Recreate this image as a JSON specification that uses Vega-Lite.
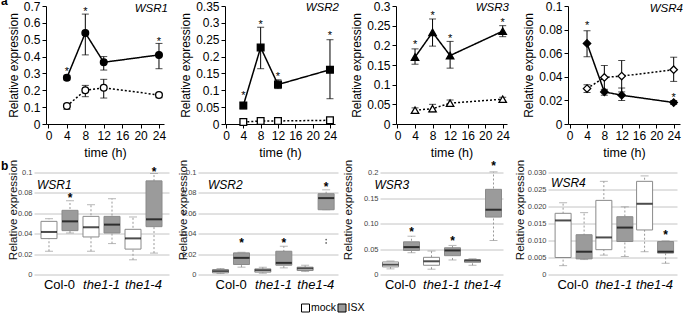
{
"$schema":"https://vega.github.io/schema/vega-lite/v6.json",
"padding":{"left":0,"top":-5,"right":0,"bottom":0},
"config":{"font":"Liberation Sans","view":{"stroke":null},"text":{"font":"Liberation Sans"},
"axis":{"labelOverlap":false,"labelFlush":false,"titleFontWeight":"normal","labelFont":"Liberation Sans","titleFont":"Liberation Sans"}},
"datasets":{
"top":[
{"gene":"WSR1","time":4,"treat":"ISX","mean":0.275,"lo":0.261,"hi":0.289,"sig":0.328},
{"gene":"WSR1","time":8,"treat":"ISX","mean":0.54,"lo":0.41,"hi":0.652,"sig":0.684},
{"gene":"WSR1","time":12,"treat":"ISX","mean":0.366,"lo":0.32,"hi":0.40,"sig":null},
{"gene":"WSR1","time":24,"treat":"ISX","mean":0.41,"lo":0.328,"hi":0.478,"sig":0.506},
{"gene":"WSR1","time":4,"treat":"mock","mean":0.107,"lo":0.087,"hi":0.119,"sig":null},
{"gene":"WSR1","time":8,"treat":"mock","mean":0.2,"lo":0.162,"hi":0.229,"sig":null},
{"gene":"WSR1","time":12,"treat":"mock","mean":0.215,"lo":0.154,"hi":0.265,"sig":null},
{"gene":"WSR1","time":24,"treat":"mock","mean":0.172,"lo":0.156,"hi":0.182,"sig":null},
{"gene":"WSR2","time":4,"treat":"ISX","mean":0.055,"lo":0.045,"hi":0.063,"sig":0.092},
{"gene":"WSR2","time":8,"treat":"ISX","mean":0.227,"lo":0.164,"hi":0.287,"sig":0.302},
{"gene":"WSR2","time":12,"treat":"ISX","mean":0.117,"lo":0.105,"hi":0.131,"sig":0.149},
{"gene":"WSR2","time":24,"treat":"ISX","mean":0.161,"lo":0.075,"hi":0.25,"sig":0.27},
{"gene":"WSR2","time":4,"treat":"mock","mean":0.006,"lo":0.004,"hi":0.008,"sig":null},
{"gene":"WSR2","time":8,"treat":"mock","mean":0.009,"lo":0.007,"hi":0.011,"sig":null},
{"gene":"WSR2","time":12,"treat":"mock","mean":0.009,"lo":0.007,"hi":0.011,"sig":null},
{"gene":"WSR2","time":24,"treat":"mock","mean":0.011,"lo":0.009,"hi":0.013,"sig":null},
{"gene":"WSR3","time":4,"treat":"ISX","mean":0.17,"lo":0.152,"hi":0.191,"sig":0.208},
{"gene":"WSR3","time":8,"treat":"ISX","mean":0.233,"lo":0.198,"hi":0.267,"sig":0.282},
{"gene":"WSR3","time":12,"treat":"ISX","mean":0.174,"lo":0.142,"hi":0.21,"sig":0.223},
{"gene":"WSR3","time":24,"treat":"ISX","mean":0.236,"lo":0.222,"hi":0.25,"sig":0.265},
{"gene":"WSR3","time":4,"treat":"mock","mean":0.035,"lo":0.029,"hi":0.041,"sig":null},
{"gene":"WSR3","time":8,"treat":"mock","mean":0.039,"lo":0.031,"hi":0.05,"sig":null},
{"gene":"WSR3","time":12,"treat":"mock","mean":0.053,"lo":0.046,"hi":0.061,"sig":null},
{"gene":"WSR3","time":24,"treat":"mock","mean":0.063,"lo":0.058,"hi":0.068,"sig":null},
{"gene":"WSR4","time":4,"treat":"ISX","mean":0.0683,"lo":0.057,"hi":0.079,"sig":0.0854},
{"gene":"WSR4","time":8,"treat":"ISX","mean":0.0272,"lo":0.0244,"hi":0.0294,"sig":null},
{"gene":"WSR4","time":12,"treat":"ISX","mean":0.0244,"lo":0.0199,"hi":0.0305,"sig":null},
{"gene":"WSR4","time":24,"treat":"ISX","mean":0.0182,"lo":0.0165,"hi":0.0199,"sig":0.0244},
{"gene":"WSR4","time":4,"treat":"mock","mean":0.03,"lo":0.0266,"hi":0.0333,"sig":null},
{"gene":"WSR4","time":8,"treat":"mock","mean":0.0395,"lo":0.0286,"hi":0.0496,"sig":null},
{"gene":"WSR4","time":12,"treat":"mock","mean":0.0406,"lo":0.0272,"hi":0.0538,"sig":null},
{"gene":"WSR4","time":24,"treat":"mock","mean":0.046,"lo":0.0361,"hi":0.0566,"sig":null}
],
"box":[
{"gene":"WSR1","geno":"Col-0","treat":"mock","wlo":0.0228,"q1":0.0352,"med":0.0417,"q3":0.0521,"whi":0.0547,"sig":null,"o1":null,"o2":null},
{"gene":"WSR1","geno":"Col-0","treat":"ISX","wlo":0.0407,"q1":0.043,"med":0.0521,"q3":0.0629,"whi":0.0723,"sig":0.078,"o1":null,"o2":null},
{"gene":"WSR1","geno":"the1-1","treat":"mock","wlo":0.0228,"q1":0.0368,"med":0.0463,"q3":0.057,"whi":0.0684,"sig":null,"o1":null,"o2":null},
{"gene":"WSR1","geno":"the1-1","treat":"ISX","wlo":0.0303,"q1":0.0407,"med":0.0489,"q3":0.057,"whi":0.0743,"sig":null,"o1":null,"o2":null},
{"gene":"WSR1","geno":"the1-4","treat":"mock","wlo":0.0144,"q1":0.0249,"med":0.0354,"q3":0.0443,"whi":0.0564,"sig":null,"o1":null,"o2":null},
{"gene":"WSR1","geno":"the1-4","treat":"ISX","wlo":0.021,"q1":0.0469,"med":0.0541,"q3":0.0918,"whi":0.099,"sig":0.1036,"o1":null,"o2":null},
{"gene":"WSR2","geno":"Col-0","treat":"mock","wlo":0.001,"q1":0.0016,"med":0.0033,"q3":0.0049,"whi":0.0059,"sig":null,"o1":null,"o2":null},
{"gene":"WSR2","geno":"Col-0","treat":"ISX","wlo":0.0072,"q1":0.0098,"med":0.0163,"q3":0.0212,"whi":0.0218,"sig":0.0335,"o1":null,"o2":null},
{"gene":"WSR2","geno":"the1-1","treat":"mock","wlo":0.0013,"q1":0.0023,"med":0.0042,"q3":0.0055,"whi":0.0072,"sig":null,"o1":null,"o2":null},
{"gene":"WSR2","geno":"the1-1","treat":"ISX","wlo":0.0065,"q1":0.0091,"med":0.0114,"q3":0.0228,"whi":0.0277,"sig":0.0335,"o1":null,"o2":null},
{"gene":"WSR2","geno":"the1-4","treat":"mock","wlo":0.0029,"q1":0.0039,"med":0.0059,"q3":0.0072,"whi":0.0091,"sig":null,"o1":null,"o2":null},
{"gene":"WSR2","geno":"the1-4","treat":"ISX","wlo":0.0635,"q1":0.0635,"med":0.0749,"q3":0.0792,"whi":0.083,"sig":0.0886,"o1":0.0342,"o2":0.0309},
{"gene":"WSR3","geno":"Col-0","treat":"mock","wlo":0.011,"q1":0.0149,"med":0.0194,"q3":0.0246,"whi":0.0265,"sig":null,"o1":null,"o2":null},
{"gene":"WSR3","geno":"Col-0","treat":"ISX","wlo":0.0427,"q1":0.0472,"med":0.0537,"q3":0.0641,"whi":0.0751,"sig":0.09,"o1":null,"o2":null},
{"gene":"WSR3","geno":"the1-1","treat":"mock","wlo":0.0104,"q1":0.0181,"med":0.0259,"q3":0.0337,"whi":0.046,"sig":null,"o1":null,"o2":null},
{"gene":"WSR3","geno":"the1-1","treat":"ISX","wlo":0.0285,"q1":0.0369,"med":0.0472,"q3":0.0524,"whi":0.057,"sig":0.0712,"o1":null,"o2":null},
{"gene":"WSR3","geno":"the1-4","treat":"mock","wlo":0.0181,"q1":0.0239,"med":0.0272,"q3":0.029,"whi":0.031,"sig":null,"o1":null,"o2":null},
{"gene":"WSR3","geno":"the1-4","treat":"ISX","wlo":0.0667,"q1":0.1126,"med":0.127,"q3":0.167,"whi":0.2013,"sig":0.218,"o1":null,"o2":null},
{"gene":"WSR4","geno":"Col-0","treat":"mock","wlo":0.0026,"q1":0.005,"med":0.0159,"q3":0.018,"whi":0.0211,"sig":null,"o1":null,"o2":null},
{"gene":"WSR4","geno":"Col-0","treat":"ISX","wlo":0.0044,"q1":0.0046,"med":0.0067,"q3":0.0117,"whi":0.0182,"sig":null,"o1":null,"o2":null},
{"gene":"WSR4","geno":"the1-1","treat":"mock","wlo":0.0057,"q1":0.0073,"med":0.0109,"q3":0.0218,"whi":0.0274,"sig":null,"o1":null,"o2":null},
{"gene":"WSR4","geno":"the1-1","treat":"ISX","wlo":0.0053,"q1":0.0097,"med":0.0138,"q3":0.017,"whi":0.0199,"sig":null,"o1":null,"o2":null},
{"gene":"WSR4","geno":"the1-4","treat":"mock","wlo":0.0067,"q1":0.0131,"med":0.0208,"q3":0.0274,"whi":0.029,"sig":null,"o1":null,"o2":null},
{"gene":"WSR4","geno":"the1-4","treat":"ISX","wlo":0.0033,"q1":0.0063,"med":0.0067,"q3":0.0097,"whi":0.0099,"sig":0.0125,"o1":null,"o2":null}
],
"leg":[{"treat":"mock"},{"treat":"ISX"}]
},
"resolve":{"scale":{"fill":"independent"}},
"spacing":10,
"vconcat":[
{"spacing":-0.5,"resolve":{"scale":{"fill":"independent"}},"vconcat":[
{"bounds":"flush","spacing":0,"hconcat":[
{"width":12,"height":118,"data":{"values":[]},"mark":"point","encoding":{}},
{"bounds":"flush","spacing":61,"hconcat":[
{"width":118,"height":118,"data":{"name":"top"},"transform":[{"filter":"datum.gene==='WSR1'"},{"fold":["mean","lo","hi","sig"],"as":["key","value"]}],
"encoding":{"x":{"field":"time","type":"quantitative","scale":{"domain":[-0.54,25.09],"nice":false,"zero":false},"axis":{"values":[0,4,8,12,16,20,24],"title":"time (h)","grid":false,"domainColor":"black","tickColor":"black","tickSize":4,"labelColor":"black","labelFontSize":12,"labelPadding":2,"labelFlush":false,"labelOverlap":false,"titleFontSize":12.5,"titleFontWeight":"normal","titleColor":"black","titlePadding":5.5}},
"y":{"field":"value","type":"quantitative","scale":{"domain":[0,0.7],"nice":false},"axis":{"values":[0,0.1,0.2,0.3,0.4,0.5,0.6,0.7],"format":"~g","title":"Relative expression","grid":false,"domainColor":"black","tickColor":"black","tickSize":4,"labelColor":"black","labelFontSize":12,"labelPadding":2,"labelOverlap":false,"labelFlush":false,"titleFontSize":12,"titleFontWeight":"normal","titleColor":"black","titlePadding":3}}},
"layer":[
{"transform":[{"filter":"datum.key==='mean'"}],"mark":{"type":"line","color":"black","strokeWidth":1.5},"encoding":{"detail":{"field":"treat"},"strokeDash":{"field":"treat","type":"nominal","scale":{"domain":["ISX","mock"],"range":[[1,0],[2,2]]},"legend":null}}},
{"transform":[{"filter":"datum.key==='lo'"}],"mark":{"type":"rule","color":"black","strokeWidth":1},"encoding":{"y2":{"field":"hi"}}},
{"transform":[{"filter":"datum.key==='lo' || datum.key==='hi'"}],"mark":{"type":"tick","orient":"horizontal","color":"black","size":7,"thickness":1},"encoding":{}},
{"transform":[{"filter":"datum.key==='mean'"}],"mark":{"type":"point","shape":"circle","filled":true,"size":45,"stroke":"black","strokeWidth":1.3,"opacity":1},"encoding":{"fill":{"field":"treat","type":"nominal","scale":{"domain":["ISX","mock"],"range":["black","white"]},"legend":null}}},
{"transform":[{"filter":"datum.key==='sig' && datum.value != null"}],"mark":{"type":"text","text":"*","fontSize":11,"baseline":"alphabetic","dy":6,"color":"black"},"encoding":{}},
{"transform":[{"filter":"datum.key==='mean' && datum.time===4 && datum.treat==='ISX'"}],"mark":{"type":"text","text":"WSR1","fontStyle":"italic","fontSize":11.5,"align":"right","baseline":"alphabetic","dx":4,"color":"black"},"encoding":{"x":{"datum":25.09},"y":{"datum":0.664}}},
{"transform":[{"filter":"datum.key==='mean' && datum.time===4 && datum.treat==='ISX'"}],"mark":{"type":"text","text":"a","fontWeight":"bold","fontSize":12,"align":"left","baseline":"alphabetic","dx":-45,"dy":-1,"color":"black"},"encoding":{"x":{"datum":-0.54},"y":{"datum":0.7}}}
]},
{"width":110,"height":118,"data":{"name":"top"},"transform":[{"filter":"datum.gene==='WSR2'"},{"fold":["mean","lo","hi","sig"],"as":["key","value"]}],
"encoding":{"x":{"field":"time","type":"quantitative","scale":{"domain":[-0.23,25.16],"nice":false,"zero":false},"axis":{"values":[0,4,8,12,16,20,24],"title":"time (h)","grid":false,"domainColor":"black","tickColor":"black","tickSize":4,"labelColor":"black","labelFontSize":12,"labelPadding":2,"labelFlush":false,"labelOverlap":false,"titleFontSize":12.5,"titleFontWeight":"normal","titleColor":"black","titlePadding":5.5}},
"y":{"field":"value","type":"quantitative","scale":{"domain":[0,0.35],"nice":false},"axis":{"values":[0,0.05,0.1,0.15,0.2,0.25,0.3,0.35],"format":"~g","title":"Relative expression","grid":false,"domainColor":"black","tickColor":"black","tickSize":4,"labelColor":"black","labelFontSize":12,"labelPadding":2,"labelOverlap":false,"labelFlush":false,"titleFontSize":12,"titleFontWeight":"normal","titleColor":"black","titlePadding":3}}},
"layer":[
{"transform":[{"filter":"datum.key==='mean'"}],"mark":{"type":"line","color":"black","strokeWidth":1.5},"encoding":{"detail":{"field":"treat"},"strokeDash":{"field":"treat","type":"nominal","scale":{"domain":["ISX","mock"],"range":[[1,0],[2,2]]},"legend":null}}},
{"transform":[{"filter":"datum.key==='lo'"}],"mark":{"type":"rule","color":"black","strokeWidth":1},"encoding":{"y2":{"field":"hi"}}},
{"transform":[{"filter":"datum.key==='lo' || datum.key==='hi'"}],"mark":{"type":"tick","orient":"horizontal","color":"black","size":7,"thickness":1},"encoding":{}},
{"transform":[{"filter":"datum.key==='mean'"}],"mark":{"type":"point","shape":"square","filled":true,"size":45,"stroke":"black","strokeWidth":1.3,"opacity":1},"encoding":{"fill":{"field":"treat","type":"nominal","scale":{"domain":["ISX","mock"],"range":["black","white"]},"legend":null}}},
{"transform":[{"filter":"datum.key==='sig' && datum.value != null"}],"mark":{"type":"text","text":"*","fontSize":11,"baseline":"alphabetic","dy":6,"color":"black"},"encoding":{}},
{"transform":[{"filter":"datum.key==='mean' && datum.time===4 && datum.treat==='ISX'"}],"mark":{"type":"text","text":"WSR2","fontStyle":"italic","fontSize":11.5,"align":"right","baseline":"alphabetic","dx":4,"color":"black"},"encoding":{"x":{"datum":25.16},"y":{"datum":0.334}}}
]},
{"width":111,"height":118,"data":{"name":"top"},"transform":[{"filter":"datum.gene==='WSR3'"},{"fold":["mean","lo","hi","sig"],"as":["key","value"]}],
"encoding":{"x":{"field":"time","type":"quantitative","scale":{"domain":[-0.34,24.98],"nice":false,"zero":false},"axis":{"values":[0,4,8,12,16,20,24],"title":"time (h)","grid":false,"domainColor":"black","tickColor":"black","tickSize":4,"labelColor":"black","labelFontSize":12,"labelPadding":2,"labelFlush":false,"labelOverlap":false,"titleFontSize":12.5,"titleFontWeight":"normal","titleColor":"black","titlePadding":5.5}},
"y":{"field":"value","type":"quantitative","scale":{"domain":[0,0.3],"nice":false},"axis":{"values":[0,0.05,0.1,0.15,0.2,0.25,0.3],"format":"~g","title":"Relative expression","grid":false,"domainColor":"black","tickColor":"black","tickSize":4,"labelColor":"black","labelFontSize":12,"labelPadding":2,"labelOverlap":false,"labelFlush":false,"titleFontSize":12,"titleFontWeight":"normal","titleColor":"black","titlePadding":3}}},
"layer":[
{"transform":[{"filter":"datum.key==='mean'"}],"mark":{"type":"line","color":"black","strokeWidth":1.5},"encoding":{"detail":{"field":"treat"},"strokeDash":{"field":"treat","type":"nominal","scale":{"domain":["ISX","mock"],"range":[[1,0],[2,2]]},"legend":null}}},
{"transform":[{"filter":"datum.key==='lo'"}],"mark":{"type":"rule","color":"black","strokeWidth":1},"encoding":{"y2":{"field":"hi"}}},
{"transform":[{"filter":"datum.key==='lo' || datum.key==='hi'"}],"mark":{"type":"tick","orient":"horizontal","color":"black","size":7,"thickness":1},"encoding":{}},
{"transform":[{"filter":"datum.key==='mean'"}],"mark":{"type":"point","shape":"triangle-up","filled":true,"size":55,"stroke":"black","strokeWidth":1.3,"opacity":1},"encoding":{"fill":{"field":"treat","type":"nominal","scale":{"domain":["ISX","mock"],"range":["black","white"]},"legend":null}}},
{"transform":[{"filter":"datum.key==='sig' && datum.value != null"}],"mark":{"type":"text","text":"*","fontSize":11,"baseline":"alphabetic","dy":6,"color":"black"},"encoding":{}},
{"transform":[{"filter":"datum.key==='mean' && datum.time===4 && datum.treat==='ISX'"}],"mark":{"type":"text","text":"WSR3","fontStyle":"italic","fontSize":11.5,"align":"right","baseline":"alphabetic","dx":2,"color":"black"},"encoding":{"x":{"datum":24.98},"y":{"datum":0.287}}}
]},
{"width":112,"height":118,"data":{"name":"top"},"transform":[{"filter":"datum.gene==='WSR4'"},{"fold":["mean","lo","hi","sig"],"as":["key","value"]}],
"encoding":{"x":{"field":"time","type":"quantitative","scale":{"domain":[-0.39,25.46],"nice":false,"zero":false},"axis":{"values":[0,4,8,12,16,20,24],"title":"time (h)","grid":false,"domainColor":"black","tickColor":"black","tickSize":4,"labelColor":"black","labelFontSize":12,"labelPadding":2,"labelFlush":false,"labelOverlap":false,"titleFontSize":12.5,"titleFontWeight":"normal","titleColor":"black","titlePadding":5.5}},
"y":{"field":"value","type":"quantitative","scale":{"domain":[0,0.1],"nice":false},"axis":{"values":[0,0.02,0.04,0.06,0.08,0.1],"format":"~g","title":"Relative expression","grid":false,"domainColor":"black","tickColor":"black","tickSize":4,"labelColor":"black","labelFontSize":12,"labelPadding":2,"labelOverlap":false,"labelFlush":false,"titleFontSize":12,"titleFontWeight":"normal","titleColor":"black","titlePadding":3}}},
"layer":[
{"transform":[{"filter":"datum.key==='mean'"}],"mark":{"type":"line","color":"black","strokeWidth":1.5},"encoding":{"detail":{"field":"treat"},"strokeDash":{"field":"treat","type":"nominal","scale":{"domain":["ISX","mock"],"range":[[1,0],[2,2]]},"legend":null}}},
{"transform":[{"filter":"datum.key==='lo'"}],"mark":{"type":"rule","color":"black","strokeWidth":1},"encoding":{"y2":{"field":"hi"}}},
{"transform":[{"filter":"datum.key==='lo' || datum.key==='hi'"}],"mark":{"type":"tick","orient":"horizontal","color":"black","size":7,"thickness":1},"encoding":{}},
{"transform":[{"filter":"datum.key==='mean'"}],"mark":{"type":"point","shape":"diamond","filled":true,"size":55,"stroke":"black","strokeWidth":1.3,"opacity":1},"encoding":{"fill":{"field":"treat","type":"nominal","scale":{"domain":["ISX","mock"],"range":["black","white"]},"legend":null}}},
{"transform":[{"filter":"datum.key==='sig' && datum.value != null"}],"mark":{"type":"text","text":"*","fontSize":11,"baseline":"alphabetic","dy":6,"color":"black"},"encoding":{}},
{"transform":[{"filter":"datum.key==='mean' && datum.time===4 && datum.treat==='ISX'"}],"mark":{"type":"text","text":"WSR4","fontStyle":"italic","fontSize":11.5,"align":"right","baseline":"alphabetic","dx":3,"color":"black"},"encoding":{"x":{"datum":25.46},"y":{"datum":0.095}}}
]}
]}
]},
{"spacing":4,"hconcat":[
{"bounds":"flush","spacing":29,"hconcat":[
{"width":135,"height":102,"data":{"name":"box"},"transform":[{"filter":"datum.gene==='WSR1'"},{"fold":["wlo","q1","med","q3","whi","sig","o1","o2"],"as":["key","value"]}],
"encoding":{"x":{"field":"geno","type":"nominal","sort":["Col-0","the1-1","the1-4"],"scale":{"paddingInner":0,"paddingOuter":0.107,"align":0.5},"axis":{"title":null,"domain":false,"ticks":false,"grid":false,"labelAngle":0,"labelColor":"black","labelFontSize":13,"labelPadding":4,"labelFontStyle":{"condition":{"test":"datum.value !== 'Col-0'","value":"italic"},"value":"normal"}}},"xOffset":{"field":"treat","type":"nominal","sort":["mock","ISX"],"scale":{"paddingInner":0,"paddingOuter":0}},
"y":{"field":"value","type":"quantitative","scale":{"domain":[0,0.1],"nice":false},"axis":{"values":[0,0.02,0.04,0.06,0.08,0.1],"format":"~g","title":"Relative expression","grid":true,"gridColor":"#c4c4c4","domain":false,"ticks":false,"labelColor":"#444444","labelFontSize":7.5,"labelPadding":2,"labelOverlap":false,"titleFontSize":11.5,"titleFontWeight":"normal","titleColor":"#111111","titleX":-15.5,"titleY":37}}},
"layer":[
{"transform":[{"filter":"datum.key==='wlo'"}],"mark":{"type":"rule","color":"#999999","strokeDash":[2,2],"strokeWidth":1},"encoding":{"y2":{"field":"whi"}}},
{"transform":[{"filter":"datum.key==='wlo' || datum.key==='whi'"}],"mark":{"type":"tick","orient":"horizontal","color":"#999999","size":8,"thickness":1},"encoding":{}},
{"transform":[{"filter":"datum.key==='q1'"}],"mark":{"type":"bar","size":16,"stroke":"#8a8a8a","strokeWidth":1},"encoding":{"y2":{"field":"q3"},"fill":{"field":"treat","type":"nominal","scale":{"domain":["mock","ISX"],"range":["white","#9b9b9b"]},"legend":null}}},
{"transform":[{"filter":"datum.key==='med'"}],"mark":{"type":"tick","orient":"horizontal","color":"black","size":16,"thickness":2},"encoding":{}},
{"transform":[{"filter":"datum.key==='sig' && datum.value != null"}],"mark":{"type":"text","text":"*","fontSize":12,"fontWeight":"bold","baseline":"alphabetic","dy":7,"color":"black"},"encoding":{}},
{"transform":[{"filter":"datum.key==='med' && datum.geno==='Col-0' && datum.treat==='mock'"}],"mark":{"type":"text","text":"WSR1","fontStyle":"italic","fontSize":12,"align":"left","baseline":"alphabetic","dx":-12,"color":"black"},"encoding":{"y":{"datum":0.0835}}},
{"transform":[{"filter":"datum.key==='med' && datum.geno==='Col-0' && datum.treat==='mock'"}],"mark":{"type":"text","text":"b","fontWeight":"bold","fontSize":12,"align":"left","baseline":"alphabetic","dx":-48,"dy":-3,"color":"black"},"encoding":{"y":{"datum":0.1}}}
]},
{"width":140,"height":102,"data":{"name":"box"},"transform":[{"filter":"datum.gene==='WSR2'"},{"fold":["wlo","q1","med","q3","whi","sig","o1","o2"],"as":["key","value"]}],
"encoding":{"x":{"field":"geno","type":"nominal","sort":["Col-0","the1-1","the1-4"],"scale":{"paddingInner":0,"paddingOuter":0.154,"align":0.92},"axis":{"title":null,"domain":false,"ticks":false,"grid":false,"labelAngle":0,"labelColor":"black","labelFontSize":13,"labelPadding":4,"labelFontStyle":{"condition":{"test":"datum.value !== 'Col-0'","value":"italic"},"value":"normal"}}},"xOffset":{"field":"treat","type":"nominal","sort":["mock","ISX"],"scale":{"paddingInner":0,"paddingOuter":0}},
"y":{"field":"value","type":"quantitative","scale":{"domain":[0,0.1],"nice":false},"axis":{"values":[0,0.02,0.04,0.06,0.08,0.1],"format":"~g","title":"Relative expression","grid":true,"gridColor":"#c4c4c4","domain":false,"ticks":false,"labelColor":"#444444","labelFontSize":7.5,"labelPadding":2,"labelOverlap":false,"titleFontSize":11.5,"titleFontWeight":"normal","titleColor":"#111111","titleX":-9.5,"titleY":37}}},
"layer":[
{"transform":[{"filter":"datum.key==='wlo'"}],"mark":{"type":"rule","color":"#999999","strokeDash":[2,2],"strokeWidth":1},"encoding":{"y2":{"field":"whi"}}},
{"transform":[{"filter":"datum.key==='wlo' || datum.key==='whi'"}],"mark":{"type":"tick","orient":"horizontal","color":"#999999","size":8,"thickness":1},"encoding":{}},
{"transform":[{"filter":"datum.key==='q1'"}],"mark":{"type":"bar","size":16,"stroke":"#8a8a8a","strokeWidth":1},"encoding":{"y2":{"field":"q3"},"fill":{"field":"treat","type":"nominal","scale":{"domain":["mock","ISX"],"range":["white","#9b9b9b"]},"legend":null}}},
{"transform":[{"filter":"datum.key==='med'"}],"mark":{"type":"tick","orient":"horizontal","color":"black","size":16,"thickness":2},"encoding":{}},
{"transform":[{"filter":"(datum.key==='o1' || datum.key==='o2') && datum.value != null"}],"mark":{"type":"point","filled":true,"size":3,"color":"#666666","opacity":1},"encoding":{}},
{"transform":[{"filter":"datum.key==='sig' && datum.value != null"}],"mark":{"type":"text","text":"*","fontSize":12,"fontWeight":"bold","baseline":"alphabetic","dy":7,"color":"black"},"encoding":{}},
{"transform":[{"filter":"datum.key==='med' && datum.geno==='Col-0' && datum.treat==='mock'"}],"mark":{"type":"text","text":"WSR2","fontStyle":"italic","fontSize":12,"align":"left","baseline":"alphabetic","dx":-12.6,"color":"black"},"encoding":{"y":{"datum":0.0835}}}
]}
]},
{"bounds":"flush","spacing":45,"hconcat":[
{"width":123,"height":102,"data":{"name":"box"},"transform":[{"filter":"datum.gene==='WSR3'"},{"fold":["wlo","q1","med","q3","whi","sig","o1","o2"],"as":["key","value"]}],
"encoding":{"x":{"field":"geno","type":"nominal","sort":["Col-0","the1-1","the1-4"],"scale":{"paddingInner":0,"paddingOuter":0,"align":0.5},"axis":{"title":null,"domain":false,"ticks":false,"grid":false,"labelAngle":0,"labelColor":"black","labelFontSize":13,"labelPadding":4,"labelFontStyle":{"condition":{"test":"datum.value !== 'Col-0'","value":"italic"},"value":"normal"}}},"xOffset":{"field":"treat","type":"nominal","sort":["mock","ISX"],"scale":{"paddingInner":0,"paddingOuter":0}},
"y":{"field":"value","type":"quantitative","scale":{"domain":[0,0.2],"nice":false},"axis":{"values":[0,0.05,0.1,0.15,0.2],"labelExpr":"datum.value == 0 ? '0' : datum.value > 0.19 ? '0.2' : format(datum.value, '.2f')","title":"Relative expression","grid":true,"gridColor":"#c4c4c4","domain":false,"ticks":false,"labelColor":"#444444","labelFontSize":7.5,"labelPadding":2,"labelOverlap":false,"titleFontSize":11.5,"titleFontWeight":"normal","titleColor":"#111111","titleX":-26.5,"titleY":37}}},
"layer":[
{"transform":[{"filter":"datum.key==='wlo'"}],"mark":{"type":"rule","color":"#999999","strokeDash":[2,2],"strokeWidth":1},"encoding":{"y2":{"field":"whi"}}},
{"transform":[{"filter":"datum.key==='wlo' || datum.key==='whi'"}],"mark":{"type":"tick","orient":"horizontal","color":"#999999","size":8,"thickness":1},"encoding":{}},
{"transform":[{"filter":"datum.key==='q1'"}],"mark":{"type":"bar","size":16,"stroke":"#8a8a8a","strokeWidth":1},"encoding":{"y2":{"field":"q3"},"fill":{"field":"treat","type":"nominal","scale":{"domain":["mock","ISX"],"range":["white","#9b9b9b"]},"legend":null}}},
{"transform":[{"filter":"datum.key==='med'"}],"mark":{"type":"tick","orient":"horizontal","color":"black","size":16,"thickness":2},"encoding":{}},
{"transform":[{"filter":"datum.key==='sig' && datum.value != null"}],"mark":{"type":"text","text":"*","fontSize":12,"fontWeight":"bold","baseline":"alphabetic","dy":7,"color":"black"},"encoding":{}},
{"transform":[{"filter":"datum.key==='med' && datum.geno==='Col-0' && datum.treat==='mock'"}],"mark":{"type":"text","text":"WSR3","fontStyle":"italic","fontSize":12,"align":"left","baseline":"alphabetic","dx":-16,"color":"black"},"encoding":{"y":{"datum":0.168}}}
]},
{"width":129,"height":102,"data":{"name":"box"},"transform":[{"filter":"datum.gene==='WSR4'"},{"fold":["wlo","q1","med","q3","whi","sig","o1","o2"],"as":["key","value"]}],
"encoding":{"x":{"field":"geno","type":"nominal","sort":["Col-0","the1-1","the1-4"],"scale":{"paddingInner":0,"paddingOuter":0.083,"align":0.68},"axis":{"title":null,"domain":false,"ticks":false,"grid":false,"labelAngle":0,"labelColor":"black","labelFontSize":13,"labelPadding":4,"labelFontStyle":{"condition":{"test":"datum.value !== 'Col-0'","value":"italic"},"value":"normal"}}},"xOffset":{"field":"treat","type":"nominal","sort":["mock","ISX"],"scale":{"paddingInner":0,"paddingOuter":0}},
"y":{"field":"value","type":"quantitative","scale":{"domain":[0,0.03],"nice":false},"axis":{"values":[0,0.005,0.01,0.015,0.02,0.025,0.03],"labelExpr":"datum.value == 0 ? '0' : format(datum.value, '.3f')","title":"Relative expression","grid":true,"gridColor":"#c4c4c4","domain":false,"ticks":false,"labelColor":"#444444","labelFontSize":7.5,"labelPadding":2,"labelOverlap":false,"titleFontSize":11.5,"titleFontWeight":"normal","titleColor":"#111111","titleX":-22.5,"titleY":37}}},
"layer":[
{"transform":[{"filter":"datum.key==='wlo'"}],"mark":{"type":"rule","color":"#999999","strokeDash":[2,2],"strokeWidth":1},"encoding":{"y2":{"field":"whi"}}},
{"transform":[{"filter":"datum.key==='wlo' || datum.key==='whi'"}],"mark":{"type":"tick","orient":"horizontal","color":"#999999","size":8,"thickness":1},"encoding":{}},
{"transform":[{"filter":"datum.key==='q1'"}],"mark":{"type":"bar","size":16,"stroke":"#8a8a8a","strokeWidth":1},"encoding":{"y2":{"field":"q3"},"fill":{"field":"treat","type":"nominal","scale":{"domain":["mock","ISX"],"range":["white","#9b9b9b"]},"legend":null}}},
{"transform":[{"filter":"datum.key==='med'"}],"mark":{"type":"tick","orient":"horizontal","color":"black","size":16,"thickness":2},"encoding":{}},
{"transform":[{"filter":"datum.key==='sig' && datum.value != null"}],"mark":{"type":"text","text":"*","fontSize":12,"fontWeight":"bold","baseline":"alphabetic","dy":7,"color":"black"},"encoding":{}},
{"transform":[{"filter":"datum.key==='med' && datum.geno==='Col-0' && datum.treat==='mock'"}],"mark":{"type":"text","text":"WSR4","fontStyle":"italic","fontSize":12,"align":"left","baseline":"alphabetic","dx":-12,"color":"black"},"encoding":{"y":{"datum":0.0256}}}
]}
]}
]}
]},
{"width":324,"height":12,"data":{"name":"leg"},
"encoding":{"x":{"field":"treat","type":"nominal","scale":{"type":"point","domain":["k0","k1","k2","k3","k4","k5","k6","mock","ISX"],"padding":0.438},"axis":null}},
"layer":[
{"mark":{"type":"point","shape":"square","filled":true,"size":64,"stroke":"black","strokeWidth":1,"opacity":1},"encoding":{"fill":{"field":"treat","type":"nominal","scale":{"domain":["mock","ISX"],"range":["white","#9b9b9b"]},"legend":null}}},
{"mark":{"type":"text","align":"left","baseline":"middle","dx":5.5,"fontSize":10.5,"color":"black"},"encoding":{"text":{"field":"treat"}}}
]}
]
}
